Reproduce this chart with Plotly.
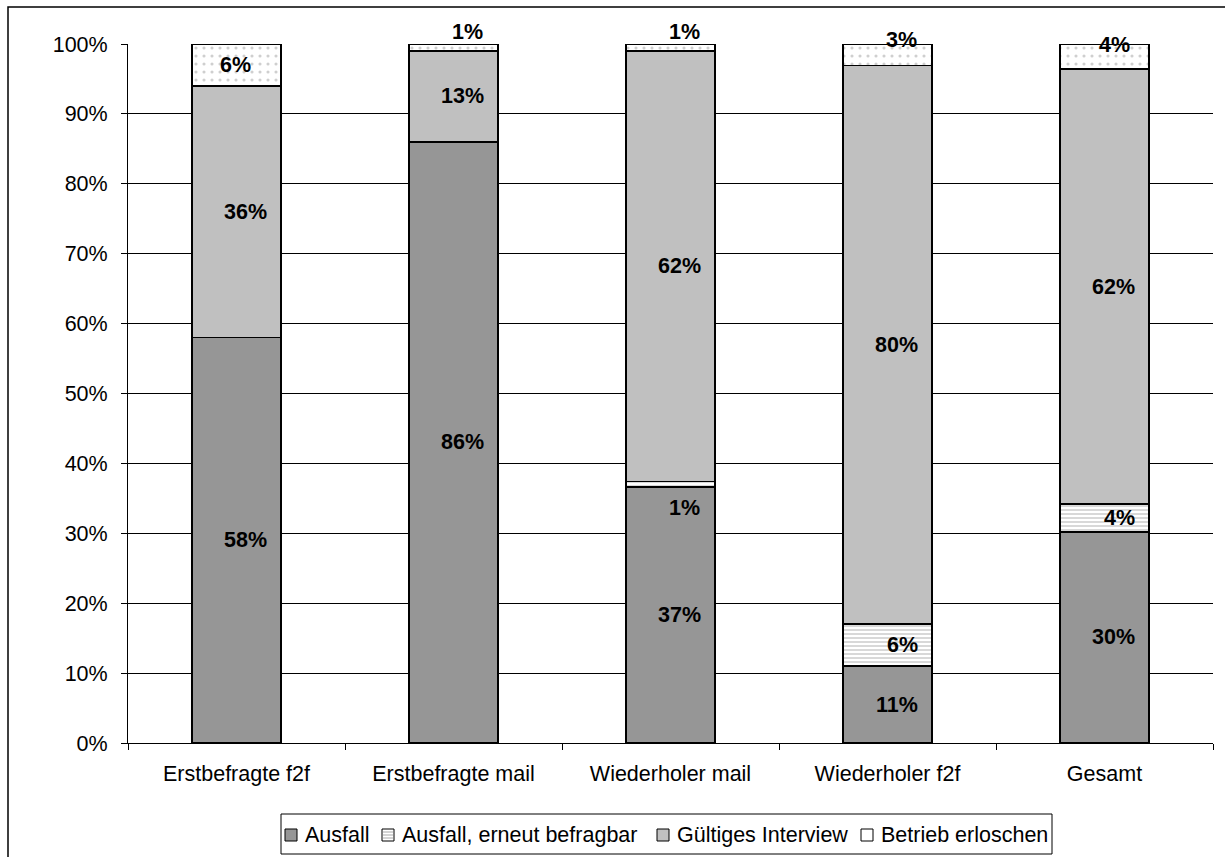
import plotly.graph_objects as go

# Response outcomes per survey group (percent of contacted firms)
categories = ["Erstbefragte f2f", "Erstbefragte mail", "Wiederholer mail", "Wiederholer f2f", "Gesamt"]
ausfall = [58.0, 86.0, 36.6, 11.0, 30.2]
ausfall_erneut = [0.0, 0.0, 0.8, 6.0, 4.0]
gueltig = [36.0, 13.0, 61.6, 79.9, 62.2]
erloschen = [6.0, 1.0, 1.0, 3.1, 3.6]

series_names = ["Ausfall", "Ausfall, erneut befragbar", "Gültiges Interview", "Betrieb erloschen"]
y_ticks = [0, 10, 20, 30, 40, 50, 60, 70, 80, 90, 100]

FONT = "Liberation Sans, Arial, sans-serif"
FS = 21.5
W, H = 1225, 857
PL, PR, PT, PB = 128, 1213, 44, 743  # plot area in pixels

series = [ausfall, ausfall_erneut, gueltig, erloschen]
fills = ["#969696", "white", "#c0c0c0", "white"]
patterns = [
    None,
    dict(shape="-", fgcolor="#a8a8a8", bgcolor="white", size=4, solidity=0.45, fillmode="overlay"),
    None,
    dict(shape=".", fgcolor="#a0a0a0", bgcolor="white", size=8, solidity=0.12, fillmode="overlay"),
]

fig = go.Figure()
for name, vals, fill, pat in zip(series_names, series, fills, patterns):
    marker = dict(color=fill, line=dict(color="black", width=1.5))
    if pat:
        marker["pattern"] = pat
    fig.add_trace(go.Bar(x=categories, y=vals, name=name, width=0.41, marker=marker))

# Value labels, centred on each segment; a few small segments get nudged
nudges = {
    (3, 0): (16, 0),
    (3, 1): (31, 16),
    (3, 2): (31, 16),
    (1, 2): (31, -24),
    (3, 3): (31, 15),
    (3, 4): (27, 12),
}
annotations = []
for ci, cat in enumerate(categories):
    base = 0.0
    for si, vals in enumerate(series):
        v = vals[ci]
        if v > 0:
            dx, dy = nudges.get((si, ci), (32, 0))
            annotations.append(dict(
                x=cat, y=base + v / 2, xref="x", yref="y",
                text=f"{v:.0f}%", showarrow=False,
                xanchor="right", yanchor="middle", xshift=dx, yshift=dy,
                font=dict(family=FONT, size=FS, color="black", weight="bold"),
            ))
        base += v

pw, ph = PR - PL, PB - PT
def px_x(p):
    return (p - PL) / pw
def px_y(p):
    return (PB - p) / ph

# Outer chart frame
shapes = [dict(type="rect", xref="paper", yref="paper",
               x0=px_x(8), x1=px_x(1232), y0=px_y(870), y1=px_y(7),
               line=dict(color="black", width=1.5), fillcolor="rgba(0,0,0,0)", layer="below")]

# Legend box with small square keys
shapes.append(dict(type="rect", xref="paper", yref="paper",
                   x0=px_x(281), x1=px_x(1052), y0=px_y(854), y1=px_y(814),
                   line=dict(color="black", width=1), fillcolor="white", layer="below"))
key_x = [285, 382, 657, 861]
key_top, key_size = 829, 12
for name, fill, kx in zip(series_names, fills, key_x):
    shapes.append(dict(type="rect", xref="paper", yref="paper",
                       x0=px_x(kx), x1=px_x(kx + key_size),
                       y0=px_y(key_top + key_size), y1=px_y(key_top),
                       line=dict(color="black", width=1), fillcolor=fill))
    annotations.append(dict(x=px_x(kx + key_size + 6), y=px_y(key_top + key_size / 2),
                            xref="paper", yref="paper", text=name, showarrow=False,
                            xanchor="left", yanchor="middle",
                            font=dict(family=FONT, size=FS, color="black")))
# stripes inside the "erneut befragbar" key
for yy in (832, 835, 838):
    shapes.append(dict(type="line", xref="paper", yref="paper",
                       x0=px_x(key_x[1] + 1), x1=px_x(key_x[1] + key_size - 1),
                       y0=px_y(yy), y1=px_y(yy), line=dict(color="#a8a8a8", width=1)))

fig.update_layout(
    barmode="stack",
    width=W, height=H,
    margin=dict(l=PL, r=W - PR, t=PT, b=H - PB, autoexpand=False),
    paper_bgcolor="white", plot_bgcolor="white",
    font=dict(family=FONT, size=FS, color="black"),
    showlegend=False,
    annotations=annotations,
    shapes=shapes,
)
fig.update_xaxes(
    type="category", showline=True, linecolor="black", linewidth=1,
    ticks="outside", tickson="boundaries", ticklen=6, tickcolor="black",
    showgrid=False, ticklabelstandoff=11,
    tickfont=dict(family=FONT, size=FS),
)
fig.update_yaxes(
    range=[0, 100], tickvals=y_ticks, ticktext=[f"{t}%" for t in y_ticks],
    showline=True, linecolor="black", linewidth=1,
    ticks="outside", ticklen=6, tickcolor="black",
    showgrid=True, gridcolor="black", gridwidth=1, zeroline=False,
    ticklabelstandoff=9, tickfont=dict(family=FONT, size=FS),
)

fig.write_html("out.html")
